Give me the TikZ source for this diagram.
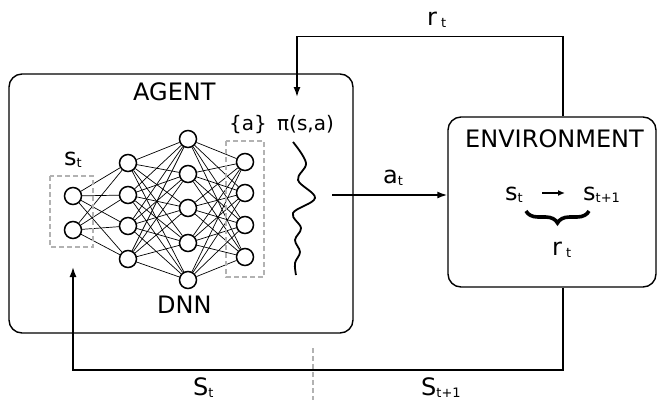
\documentclass[tikz,border=0pt]{standalone}
\usepackage{fontspec}
\setmainfont{DejaVu Sans}
\usetikzlibrary{arrows.meta,decorations.pathreplacing}
\newcommand\sbt[2][13]{\raisebox{-2.5pt}{\fontsize{#1}{#1}\selectfont #2}}
\begin{document}
\begin{tikzpicture}[x=1pt,y=-1pt,
 box/.style={draw,line width=1.4pt,rounded corners=13pt,inner sep=0},
 neuron/.style={circle,draw,line width=1.5pt,fill=white,minimum size=17pt,inner sep=0},
 edge/.style={line width=0.7pt},
 dbox/.style={draw=gray!60,dashed,dash pattern=on 5pt off 3pt,line width=1.3pt},
 conn/.style={line width=1.6pt},
 arr/.style={conn,-{Latex[length=10pt,width=7pt]}},
 lbl/.style={anchor=base west,inner sep=0,font=\fontsize{24}{24}\selectfont},
 slbl/.style={lbl,font=\fontsize{20}{20}\selectfont}]
\useasboundingbox (0,0) rectangle (658,400);
\node[box,minimum width=344pt,minimum height=259pt] (agent) at (181,203.5) {};
\node[box,minimum width=208pt,minimum height=170pt] (env) at (552,202) {};
% network
\foreach \y [count=\i] in {196,230} \node[neuron] (i\i) at (73,\y) {};
\foreach \y [count=\i] in {163,195,226,259} \node[neuron] (h\i) at (128,\y) {};
\foreach \y [count=\i] in {139,174,208,243,280} \node[neuron] (g\i) at (188,\y) {};
\foreach \y [count=\i] in {162,193,225,257} \node[neuron] (o\i) at (245,\y) {};
\foreach \a in {1,2} \foreach \b in {1,...,4} \draw[edge] (i\a) -- (h\b);
\foreach \a in {1,...,4} \foreach \b in {1,...,5} \draw[edge] (h\a) -- (g\b);
\foreach \a in {1,...,5} \foreach \b in {1,...,4} \draw[edge] (g\a) -- (o\b);
\draw[dbox] (50,176) rectangle (93,247);
\draw[dbox] (226,141) rectangle (264,277);
% wave
\draw[line width=1.8pt] plot[smooth,tension=0.6] coordinates {(293,142) (306,163) (298,180) (315,198) (293,213) (301,228) (295,240) (300,252) (295,263) (296,275)};
% labels
\node[lbl] (agentlbl) at (133,100) {AGENT};
\node[lbl] (envlbl) at (465,147) {ENVIRONMENT};
\node[lbl] (dnn) at (157,313) {DNN};
\node[lbl] (st) at (64,165) {s\sbt{t}};
\node[slbl] (acts) at (229,130) {\{a\}};
\node[slbl] (pi) at (277,130) {π(s,a)};
\node[lbl] (at) at (383,183) {a\sbt{t}};
\node[lbl] (rtop) at (427,25) {r\,\sbt{t}};
\node[lbl] (es) at (505,200) {s\sbt{t}};
\node[lbl] (es1) at (583,200) {s\sbt{t+1}};
\node[lbl] (er) at (552,255) {r\,\sbt{t}};
\node[lbl] (bS) at (193,395) {S\sbt{t}};
\node[lbl] (bS1) at (421,395) {S\sbt{t+1}};
% env internals
\coordinate (ea1) at (542,193);
\coordinate (ea2) at (565,193);
\draw[line width=1.4pt,-{Latex[length=7pt,width=6pt]}] (ea1) -- (ea2);
\draw[decorate,decoration={brace,amplitude=12pt},line width=3.6pt] (589,211) -- (526,211);
% connectors
\coordinate (rEnd) at (297,97);
\draw[arr] ([xshift=11pt]env.north) -- ++(0,-80) -| (rEnd);
\coordinate (sIn) at (73,267);
\draw[arr] ([xshift=11pt]env.south) -- ++(0,82) -| (sIn);
\coordinate (aS) at (332,195);
\draw[arr] (aS) -- (aS -| env.west);
\coordinate (d1) at (313,348);
\coordinate (d2) at (313,400);
\draw[dbox] (d1) -- (d2);
\end{tikzpicture}
\end{document}
